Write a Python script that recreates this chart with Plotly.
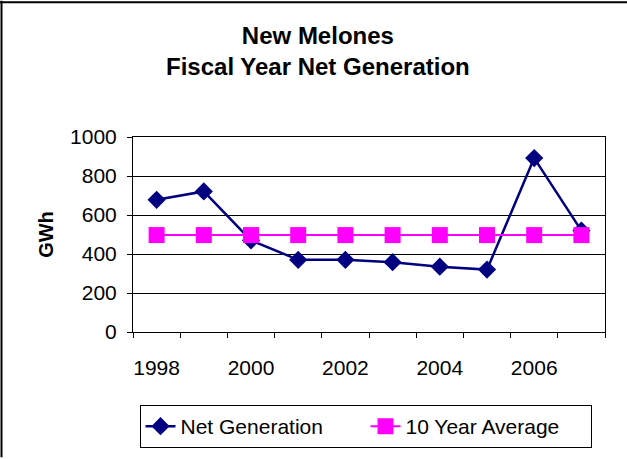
import plotly.graph_objects as go

years = [1998, 1999, 2000, 2001, 2002, 2003, 2004, 2005, 2006, 2007]
net_generation = [678, 721, 470, 370, 370, 358, 335, 320, 892, 520]
ten_year_average = [497, 497, 497, 497, 497, 497, 497, 497, 497, 497]
x_tick_labels = [1998, 2000, 2002, 2004, 2006]

W, H = 627, 459
L, R, T, B = 133, 22, 137, 126
pw, ph = W - L - R, H - T - B

def px_x(p):
    return (p - L) / pw

def px_y(p):
    return (H - B - p) / ph

FONT = "Liberation Sans, Arial, sans-serif"

fig = go.Figure()
fig.add_trace(go.Scatter(
    x=years, y=net_generation, name="Net Generation", mode="lines+markers",
    line=dict(color="#000080", width=2.5),
    marker=dict(symbol="diamond", size=14, color="#000080"),
))
fig.add_trace(go.Scatter(
    x=years, y=ten_year_average, name="10 Year Average", mode="lines+markers",
    line=dict(color="#FF00FF", width=2),
    marker=dict(symbol="square", size=16, color="#FF00FF"),
))

fig.update_layout(
    width=W, height=H,
    margin=dict(l=L, r=R, t=T, b=B, pad=0),
    paper_bgcolor="white", plot_bgcolor="white",
    font=dict(family=FONT, size=21, color="black"),
    title=dict(
        text="<b>New Melones<br>Fiscal Year Net Generation</b>",
        font=dict(family=FONT, size=24, color="black"),
        x=0.507, xanchor="center", xref="container",
        y=1 - 44 / H, yanchor="top", yref="container",
    ),
    showlegend=True,
    legend=dict(
        orientation="h", x=px_x(365.5), xanchor="center",
        y=px_y(405), yanchor="top",
        bordercolor="black", borderwidth=1, bgcolor="white",
        font=dict(family=FONT, size=21, color="black"),
        traceorder="normal", entrywidth=180, entrywidthmode="pixels",
    ),
    xaxis=dict(
        range=[1997.5, 2007.5], tickmode="array", tickvals=x_tick_labels,
        ticktext=[str(v) for v in x_tick_labels],
        ticks="", showgrid=False, zeroline=False,
        showline=True, linecolor="black", linewidth=1, mirror=True,
        ticklabelstandoff=17,
        minor=dict(tickmode="linear", tick0=1997.5, dtick=1, ticks="outside",
                   ticklen=5, tickcolor="black", tickwidth=1, showgrid=False),
        tickfont=dict(family=FONT, size=21, color="black"),
    ),
    yaxis=dict(
        range=[0, 1000], tickmode="linear", tick0=0, dtick=200,
        ticks="outside", ticklen=5, tickcolor="black", tickwidth=1,
        showgrid=True, gridcolor="black", gridwidth=1, zeroline=False,
        showline=True, linecolor="black", linewidth=1, mirror=True,
        ticklabelstandoff=6,
        tickfont=dict(family=FONT, size=21, color="black"),
        title=dict(text="<b>GWh</b>", standoff=11,
                   font=dict(family=FONT, size=20, color="black")),
    ),
    shapes=[
        dict(type="line", xref="paper", yref="paper",
             x0=px_x(1.5), x1=px_x(1.5), y0=px_y(0), y1=px_y(H), line=dict(color="black", width=2)),
        dict(type="line", xref="paper", yref="paper",
             x0=px_x(0), x1=px_x(W), y0=px_y(1.5), y1=px_y(1.5), line=dict(color="black", width=2)),
    ],
)

fig.write_html("out.html", config={"displayModeBar": False},
               post_script="document.body.style.margin='0px';")
